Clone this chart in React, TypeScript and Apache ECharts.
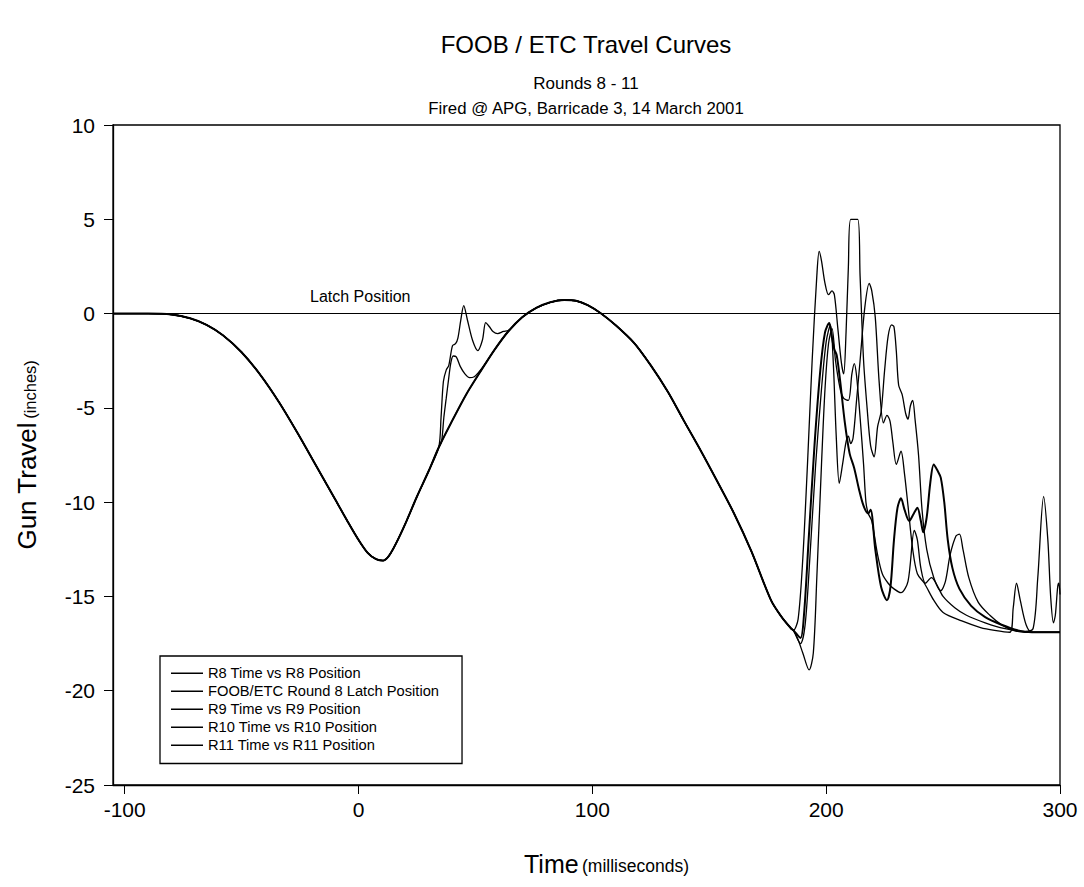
import React, { useEffect, useRef } from "react";
import * as echarts from "echarts";

type P = [number, number];

const titleText = "FOOB / ETC Travel Curves";
const subtitle1 = "Rounds 8 - 11";
const subtitle2 = "Fired @ APG, Barricade 3, 14 March 2001";
const latchLabel = "Latch Position";

const seriesNames = [
  "R8 Time vs R8 Position",
  "FOOB/ETC Round 8 Latch Position",
  "R9 Time vs R9 Position",
  "R10 Time vs R10 Position",
  "R11 Time vs R11 Position",
];

const xTicks = [-100, 0, 100, 200, 300];

const latchLine: P[] = [[-105, 0], [300, 0]];

// shared recoil path before the rounds diverge
const commonDescent: P[] = [
  [-105, 0], [-90, 0], [-80, -0.05], [-72, -0.25], [-65, -0.6], [-58, -1.15], [-50, -2.05],
  [-42, -3.25], [-34, -4.7], [-26, -6.35], [-18, -8.1], [-10, -9.85], [-5, -10.95],
  [0, -12.0], [4, -12.7], [7.5, -13.02], [10.5, -13.1], [13, -12.85], [16, -12.2],
  [20, -11.15], [25, -9.7], [30, -8.35], [34.3, -7.1],
];

const commonMid: P[] = [
  [40, -5.7], [46, -4.3], [52, -3.1], [58, -1.95], [64, -0.95], [70, -0.2], [76, 0.3],
  [82, 0.6], [88, 0.72], [93, 0.68], [98, 0.45], [103.6, 0.02], [110, -0.62], [117.8, -1.55],
  [125, -2.75], [132.3, -4.15], [139, -5.65], [146.5, -7.3], [153, -8.8], [160.6, -10.6],
  [168, -12.6], [176.4, -15.2], [181, -16.1], [185, -16.7],
];

const r10Early: P[] = [
  [35.3, -5.5], [36.3, -3.6], [37.5, -3.0], [38.6, -2.75], [40.2, -1.7], [41.5, -1.6],
  [42.5, -1.3], [43.7, -0.37], [45, 0.42], [46.5, -0.3], [48.8, -1.43], [51, -1.96],
  [53, -1.4], [54.4, -0.48], [56, -0.7], [57.5, -0.95], [59.5, -1.06], [62, -0.95],
  [64, -0.9], [66.4, -0.65],
];

const r11Early: P[] = [
  [35.5, -6.8], [36.5, -5.5], [37.5, -4.5], [38.5, -3.5], [39.5, -2.6], [40.5, -2.25],
  [41.8, -2.3], [43.5, -2.8], [45.5, -3.2], [47.5, -3.4], [49.5, -3.35], [51.5, -3.1],
  [54, -2.7],
];

const r8Late: P[] = [
  [186, -16.8], [188, -16.2], [190, -13], [192, -8], [194, -2.5], [196, 2], [197, 3.3],
  [198, 2.8], [199.5, 1.6], [201, 1.0], [202.5, 1.2], [203.5, 1.0], [205, -0.8],
  [206.5, -2.6], [207.5, -3.2], [208.5, -1], [209.5, 2.5], [210.5, 5.0], [213.5, 5.0],
  [214.5, 2], [216, -2.5], [217.5, -5], [219, -7], [220.5, -7.6], [222, -6], [223.5, -5.2],
  [225, -3], [226.5, -1.2], [228, -0.6], [229, -0.7], [230, -2], [231, -3.8], [232.5, -4.3],
  [234, -5.3], [235, -5.6], [236, -4.9], [237, -4.6], [238, -5.6], [239.5, -7.5],
  [241, -10.4], [243, -12.5], [246, -14], [249, -14.7], [251, -14.2], [253, -12.8],
  [255.5, -11.8], [257, -11.7], [258.5, -12.5], [261, -14], [265, -15.3], [270, -16],
  [275, -16.5], [280, -16.8], [285, -16.9], [300, -16.9],
];

const r9Late: P[] = [
  [186, -16.8], [189, -17.2], [190.5, -16], [192.5, -12], [195, -7], [197.5, -3],
  [199.5, -1.0], [201.3, -0.5], [202.5, -1.3], [203.5, -1.9], [204.5, -2.2], [206, -3.6],
  [208, -5.8], [210, -7.4], [212, -8.2], [214, -9.3], [216, -10.2], [218, -10.6],
  [219, -10.4], [221, -12.5], [223.5, -14.5], [226, -15.2], [227.5, -14.5], [229, -12],
  [230.5, -10.3], [232, -9.8], [233.5, -10.4], [235.5, -11], [237.5, -10.6], [239, -10.3],
  [240.5, -11], [241.5, -11.6], [243, -10.8], [244.5, -9], [246, -8.0], [247.5, -8.3],
  [249, -8.7], [250.5, -10], [252, -12], [254, -13.5], [257, -14.6], [262, -15.5],
  [268, -16.1], [275, -16.5], [282, -16.8], [288, -16.9], [300, -16.9],
];

const r10Late: P[] = [
  [186, -16.8], [189, -17.5], [191, -16.5], [193, -13], [195.5, -8], [198, -4],
  [200, -1.5], [201.8, -0.6], [203, -2.5], [204.3, -6.5], [205.6, -9.0], [207, -8],
  [208.5, -6.8], [209.5, -6.5], [210.5, -6.9], [211.5, -6.6], [213, -4.6], [214.5, -2.5],
  [216.5, 0.3], [218.4, 1.6], [219.5, 1.2], [221, -0.2], [222.7, -3.7], [224.5, -5.8],
  [226, -5.4], [227.3, -5.7], [228.5, -6.8], [230, -8], [232, -7.3], [233.5, -8.5],
  [235, -10.2], [237, -12.5], [239, -13.8], [242, -14.3], [246, -15.2], [250, -15.85],
  [258, -16.3], [266, -16.65], [272, -16.8], [278.5, -16.9], [280, -15.6], [281.4, -14.3],
  [283, -15.2], [285.5, -16.5], [288, -16.9], [300, -16.9],
];

const r11Late: P[] = [
  [186, -16.8], [188, -17.3], [190, -18], [192.7, -18.9], [194.5, -18], [196, -14],
  [198, -8], [199.5, -4], [201, -1.6], [202.5, -0.8], [204, -2.5], [206, -4], [207.5, -4.5],
  [209.5, -4.6], [211, -3.2], [212, -2.65], [213, -3.3], [214.5, -5.5], [216, -8],
  [217, -10], [218, -10.6], [219.5, -11], [222, -12.8], [224, -13.8], [226.5, -14.3],
  [229, -14.6], [232, -14.8], [235, -14.2], [237.7, -11.5], [239, -12], [240.5, -13.5],
  [242.5, -14.3], [245, -14], [247, -14.3], [250, -15], [255, -15.6], [260, -16],
  [268, -16.4], [276, -16.7], [285, -16.85], [288.5, -16.7], [290.5, -14], [293, -9.7],
  [294.8, -12], [296, -15], [297.2, -16.4], [298, -16], [299, -14.5], [299.5, -14.3],
  [300, -14.9],
];

const FONT = 'Arial, "Liberation Sans", Helvetica, sans-serif';

export default function App() {
  const ref = useRef<HTMLDivElement>(null);
  useEffect(() => {
    if (!ref.current) return;
    const chart = echarts.init(ref.current, undefined, { renderer: "svg" });
    const r8 = [...commonDescent, ...commonMid, ...r8Late];
    const r9 = [...commonDescent, ...commonMid, ...r9Late];
    const r10 = [...commonDescent, ...r10Early, ...commonMid.filter((p) => p[0] > 66.4), ...r10Late];
    const r11 = [...commonDescent, ...r11Early, ...commonMid.filter((p) => p[0] > 54), ...r11Late];
    const line = (name: string, data: P[], width: number, z = 2) => ({
      name,
      type: "line",
      data,
      symbol: "none",
      smooth: 0.3,
      z,
      lineStyle: { color: "#000", width },
      itemStyle: { color: "#000" },
    });
    chart.setOption({
      animation: false,
      backgroundColor: "#fff",
      textStyle: { fontFamily: FONT, color: "#000" },
      grid: {
        left: 113, right: 24, top: 125, bottom: 102,
        show: true, borderColor: "#000", borderWidth: 1.3, backgroundColor: "transparent",
      },
      xAxis: {
        type: "value",
        min: -105,
        max: 300,
        name: "{a|Time} {b|(milliseconds)}",
        nameLocation: "middle",
        nameGap: 66,
        nameTextStyle: {
          rich: {
            a: { fontSize: 25, fontFamily: FONT, color: "#000", padding: [0, 0, 0, 40] },
            b: { fontSize: 17.5, fontFamily: FONT, color: "#000", padding: [5, 0, 0, 0] },
          },
        },
        axisLine: { show: true, onZero: false, lineStyle: { color: "#000", width: 1.3 } },
        axisTick: { show: true, length: 9, inside: false, customValues: xTicks, lineStyle: { color: "#000" } },
        axisLabel: { customValues: xTicks, fontSize: 21, color: "#000", margin: 14, fontFamily: FONT },
        splitLine: { show: false },
      },
      yAxis: {
        type: "value",
        min: -25,
        max: 10,
        interval: 5,
        name: "{a|Gun Travel} {b|(inches)}",
        nameLocation: "middle",
        nameGap: 73,
        nameTextStyle: {
          rich: {
            a: { fontSize: 26, fontFamily: FONT, color: "#000" },
            b: { fontSize: 16.5, fontFamily: FONT, color: "#000", padding: [6, 0, 0, 0] },
          },
        },
        axisLine: { show: true, onZero: false, lineStyle: { color: "#000", width: 1.3 } },
        axisTick: { show: true, length: 9, inside: false, lineStyle: { color: "#000" } },
        axisLabel: { fontSize: 21, color: "#000", margin: 18, fontFamily: FONT },
        splitLine: { show: false },
      },
      legend: {
        orient: "vertical",
        left: 160,
        top: 656,
        data: seriesNames,
        icon: "rect",
        itemWidth: 32,
        itemHeight: 1.5,
        itemGap: 1.5,
        padding: [9, 23, 10, 11],
        borderColor: "#000",
        borderWidth: 1.3,
        backgroundColor: "#fff",
        textStyle: { fontSize: 14.7, color: "#000", fontFamily: FONT, lineHeight: 16.5 },
        selectedMode: false,
      },
      graphic: [
        { type: "text", x: 586, y: 44, style: { text: titleText, font: `24px ${FONT}`, fill: "#000", align: "center", verticalAlign: "middle" } },
        { type: "text", x: 586, y: 83, style: { text: subtitle1, font: `17px ${FONT}`, fill: "#000", align: "center", verticalAlign: "middle" } },
        { type: "text", x: 586, y: 108, style: { text: subtitle2, font: `16.8px ${FONT}`, fill: "#000", align: "center", verticalAlign: "middle" } },
        { type: "text", x: 310, y: 296, style: { text: latchLabel, font: `16px ${FONT}`, fill: "#000", align: "left", verticalAlign: "middle" } },
      ],
      series: [
        line(seriesNames[0], r8, 1.3),
        line(seriesNames[1], latchLine, 1.1, 1),
        line(seriesNames[2], r9, 2.0),
        line(seriesNames[3], r10, 1.3),
        line(seriesNames[4], r11, 1.3),
      ],
    });
    return () => chart.dispose();
  }, []);
  return <div ref={ref} style={{ position: "fixed", left: 0, top: 0, width: 1084, height: 887 }} />;
}
